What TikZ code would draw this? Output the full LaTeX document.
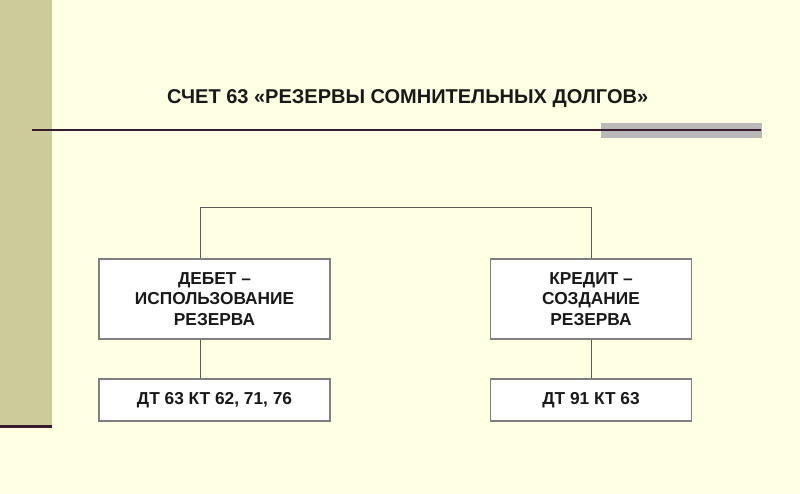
\documentclass[tikz,border=0pt]{standalone}
\usepackage{fontspec}
\setmainfont{Liberation Sans}
\definecolor{bgcream}{HTML}{FFFFE3}
\definecolor{band}{HTML}{CCCC9A}
\definecolor{darkline}{HTML}{3A1A2E}
\definecolor{grayrect}{HTML}{B9B9B9}
\definecolor{boxborder}{HTML}{7F7F7F}
\definecolor{connline}{HTML}{5A5A5A}
\tikzset{
  boxstyle/.style={draw=boxborder, line width=1.3pt, fill=white, inner sep=0pt, align=center,
    font=\fontsize{17.3}{20.7}\selectfont\bfseries, text=black!90},
  conn/.style={draw=connline, line width=0.9pt},
}
\begin{document}
\begin{tikzpicture}[x=1pt,y=-1pt]
\useasboundingbox (0,0) rectangle (800,494);
\fill[bgcream] (0,0) rectangle (800,494);
\fill[band] (0,0) rectangle (52,425);
\fill[darkline] (0,425) rectangle (52,428);
\fill[grayrect] (600.5,122.7) rectangle (761.5,138.3);
\draw[darkline, line width=1.8pt] (32,130) -- (761,130);
\node[font=\fontsize{20}{24}\selectfont\bfseries, text=black!90, anchor=base west, inner sep=0pt] (title) at (167,104) {СЧЕТ 63 «РЕЗЕРВЫ СОМНИТЕЛЬНЫХ ДОЛГОВ»};
\node[boxstyle, minimum width=231pt, minimum height=80pt] (top1) at (214.5,299) {ДЕБЕТ –\\ИСПОЛЬЗОВАНИЕ\\РЕЗЕРВА};
\node[boxstyle, minimum width=201pt, minimum height=80pt] (top2) at (591,299) {КРЕДИТ –\\СОЗДАНИЕ\\РЕЗЕРВА};
\node[boxstyle, minimum width=231pt, minimum height=42pt] (bot1) at (214.5,400) {ДТ 63 КТ 62, 71, 76};
\node[boxstyle, minimum width=201pt, minimum height=42pt] (bot2) at (591,400) {ДТ 91 КТ 63};
\coordinate (j1) at (200,207);
\coordinate (j2) at (591,207);
\draw[conn] (top1.north -| j1) -- (j1) -- (j2) -- (top2.north -| j2);
\draw[conn] (top1.south -| j1) -- (bot1.north -| j1);
\draw[conn] (top2.south -| j2) -- (bot2.north -| j2);
\end{tikzpicture}
\end{document}
